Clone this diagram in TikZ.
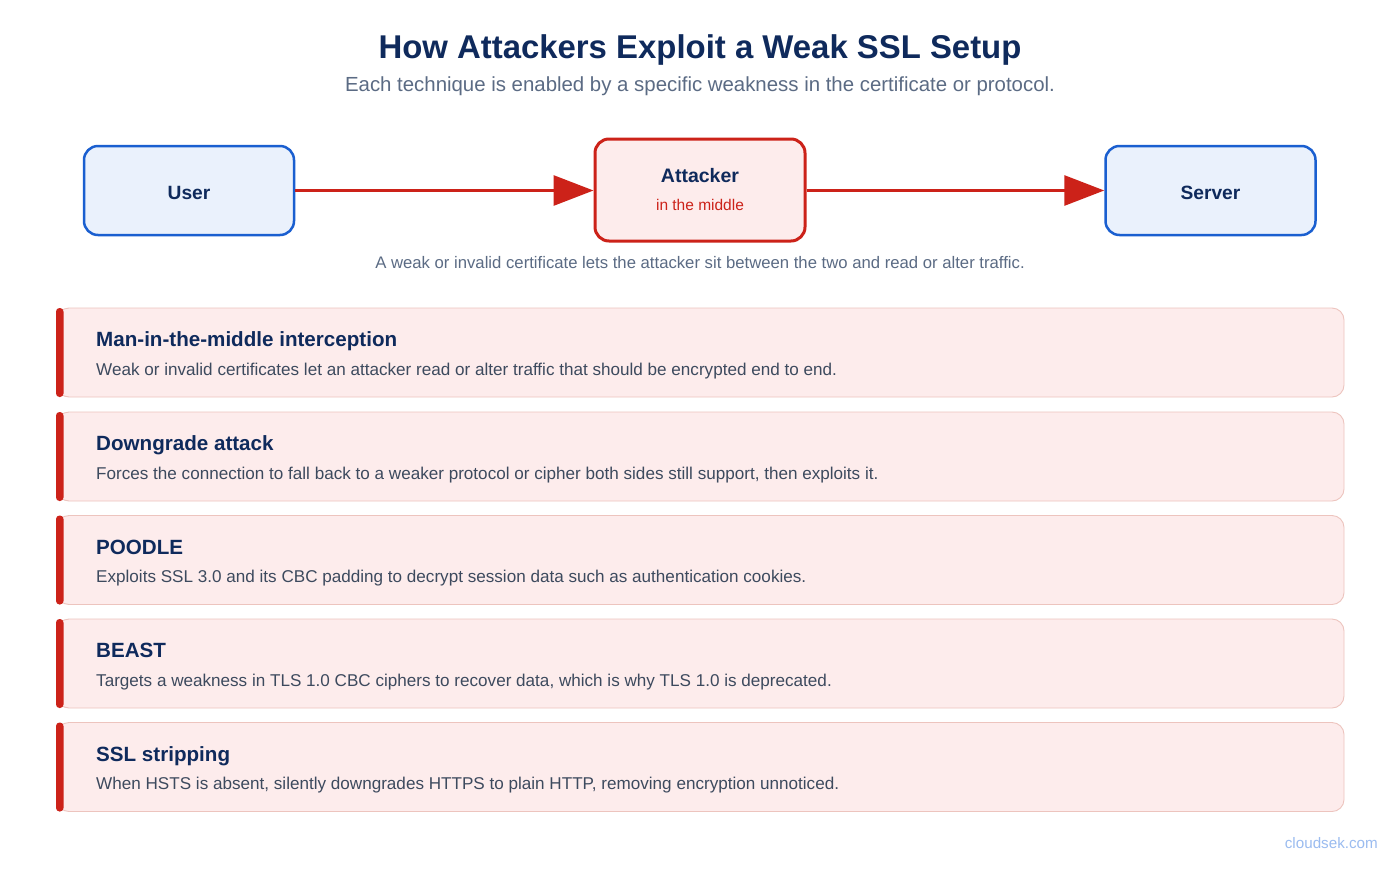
\documentclass[tikz,border=0pt]{standalone}
\usepackage{fontspec}
\setmainfont{Liberation Sans}
\usetikzlibrary{arrows.meta}
\definecolor{navy}{HTML}{0F2A5C}
\definecolor{subgray}{HTML}{5B6B84}
\definecolor{descgray}{HTML}{3D4A5E}
\definecolor{bluebd}{HTML}{1A5FD0}
\definecolor{bluefill}{HTML}{EAF1FC}
\definecolor{redbd}{HTML}{CC2219}
\definecolor{redfill}{HTML}{FDECEC}
\definecolor{cardbd}{HTML}{EDC4BE}
\definecolor{wm}{HTML}{9BBCF0}
\tikzset{
  endbox/.style={draw=bluebd, fill=bluefill, line width=2.5pt, rounded corners=14pt, minimum width=210pt, minimum height=89pt},
  endlbl/.style={anchor=base, font=\fontsize{19.2}{22}\selectfont\bfseries, text=navy, inner sep=0pt},
  midbox/.style={draw=redbd, fill=redfill, line width=3pt, rounded corners=14pt, minimum width=210pt, minimum height=102pt},
  flow/.style={draw=redbd, line width=3pt, -{Triangle[length=40pt,width=30pt]}},
  card/.style={draw=cardbd, fill=redfill, line width=0.9pt, rounded corners=12pt},
  bar/.style={fill=redbd, rounded corners=3.5pt},
  ctitle/.style={anchor=base west, font=\fontsize{20.6}{24}\selectfont\bfseries, text=navy, inner sep=0pt},
  cdesc/.style={anchor=base west, font=\fontsize{17.1}{20}\selectfont, text=descgray, inner sep=0pt}
}
\begin{document}
\begin{tikzpicture}[x=1pt,y=-1pt]
\useasboundingbox (0,0) rectangle (1400,868);
\fill[white] (0,0) rectangle (1400,868);
\node[anchor=base, inner sep=0pt, font=\fontsize{32.9}{38}\selectfont\bfseries, text=navy] (title) at (700,58) {How Attackers Exploit a Weak SSL Setup};
\node[anchor=base, inner sep=0pt, font=\fontsize{20.4}{24}\selectfont, text=subgray] (sub) at (700,91.5) {Each technique is enabled by a specific weakness in the certificate or protocol.};
\node[endbox] (user) at (189,190.5) {};
\node[endlbl] (userl) at (189,199) {User};
\node[midbox] (att) at (700,190) {};
\node[anchor=base, inner sep=0pt, font=\fontsize{19.5}{22}\selectfont\bfseries, text=navy] (attl) at (700,182.3) {Attacker};
\node[anchor=base, inner sep=0pt, font=\fontsize{15.5}{18}\selectfont, text=redbd] (attm) at (700,210.8) {in the middle};
\node[endbox] (server) at (1210.5,190.5) {};
\node[endlbl] (serverl) at (1210.5,199) {Server};
\draw[flow] (user.east) -- (att.west |- user.east);
\draw[flow] (att.east |- server.west) -- (server.west);
\node[anchor=base, inner sep=0pt, font=\fontsize{16.7}{20}\selectfont, text=subgray] (cap) at (700,268.8) {A weak or invalid certificate lets the attacker sit between the two and read or alter traffic.};
\foreach \i/\y/\t/\d in {
 1/308/{Man-in-the-middle interception}/{Weak or invalid certificates let an attacker read or alter traffic that should be encrypted end to end.},
 2/412/{Downgrade attack}/{Forces the connection to fall back to a weaker protocol or cipher both sides still support, then exploits it.},
 3/515.5/{POODLE}/{Exploits SSL 3.0 and its CBC padding to decrypt session data such as authentication cookies.},
 4/619/{BEAST}/{Targets a weakness in TLS 1.0 CBC ciphers to recover data, which is why TLS 1.0 is deprecated.},
 5/722.5/{SSL stripping}/{When HSTS is absent, silently downgrades HTTPS to plain HTTP, removing encryption unnoticed.}}{
  \draw[card] (57,\y) rectangle (1344,\y+89);
  \fill[bar] (56,\y) rectangle (63.5,\y+89);
  \node[ctitle] (t\i) at (96,\y+38.7) {\t};
  \node[cdesc] (d\i) at (96,\y+67) {\d};
}
\node[anchor=base east, inner sep=0pt, font=\fontsize{15.2}{18}\selectfont, text=wm] (wmk) at (1378,848) {cloudsek.com};
\end{tikzpicture}
\end{document}
